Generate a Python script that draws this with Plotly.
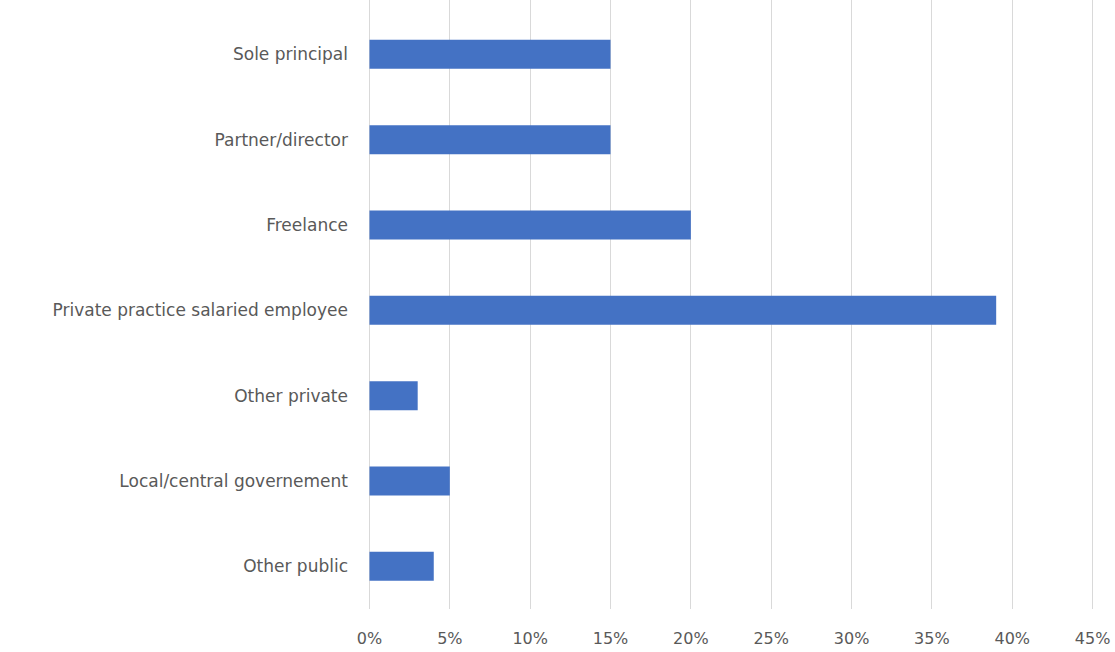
import plotly.graph_objects as go

categories = [
    "Sole principal",
    "Partner/director",
    "Freelance",
    "Private practice salaried employee",
    "Other private",
    "Local/central governement",
    "Other public",
]
shares = [0.15, 0.15, 0.20, 0.39, 0.03, 0.05, 0.04]

tick_vals = [i * 0.05 for i in range(10)]
tick_text = [f"{i * 5}%" for i in range(10)]

fig = go.Figure(
    go.Bar(
        x=shares,
        y=categories,
        orientation="h",
        marker=dict(color="#4472C4", line=dict(width=0)),
    )
)

fig.update_layout(
    width=1115,
    height=652,
    margin=dict(l=369, r=20, t=0, b=43),
    paper_bgcolor="white",
    plot_bgcolor="white",
    bargap=0.66,
    showlegend=False,
    font=dict(family="DejaVu Sans", color="#595959", size=16),
)

# range runs a hair past 45% so the last gridline is still drawn
fig.update_xaxes(
    range=[-0.0003, 0.4515],
    tickvals=tick_vals,
    ticktext=tick_text,
    showgrid=True,
    gridcolor="#D9D9D9",
    gridwidth=1,
    zeroline=True,
    zerolinecolor="#D9D9D9",
    zerolinewidth=1,
    showline=False,
    ticks="",
    tickfont=dict(size=16),
    ticklabelstandoff=18,
)

# leave a little headroom above the first bar so the gridlines run to the top edge
fig.update_yaxes(
    range=[6.5, -0.637],
    showgrid=False,
    showline=False,
    zeroline=False,
    ticks="",
    tickfont=dict(size=17),
    ticklabelstandoff=20,
)

fig.write_html("out.html")
